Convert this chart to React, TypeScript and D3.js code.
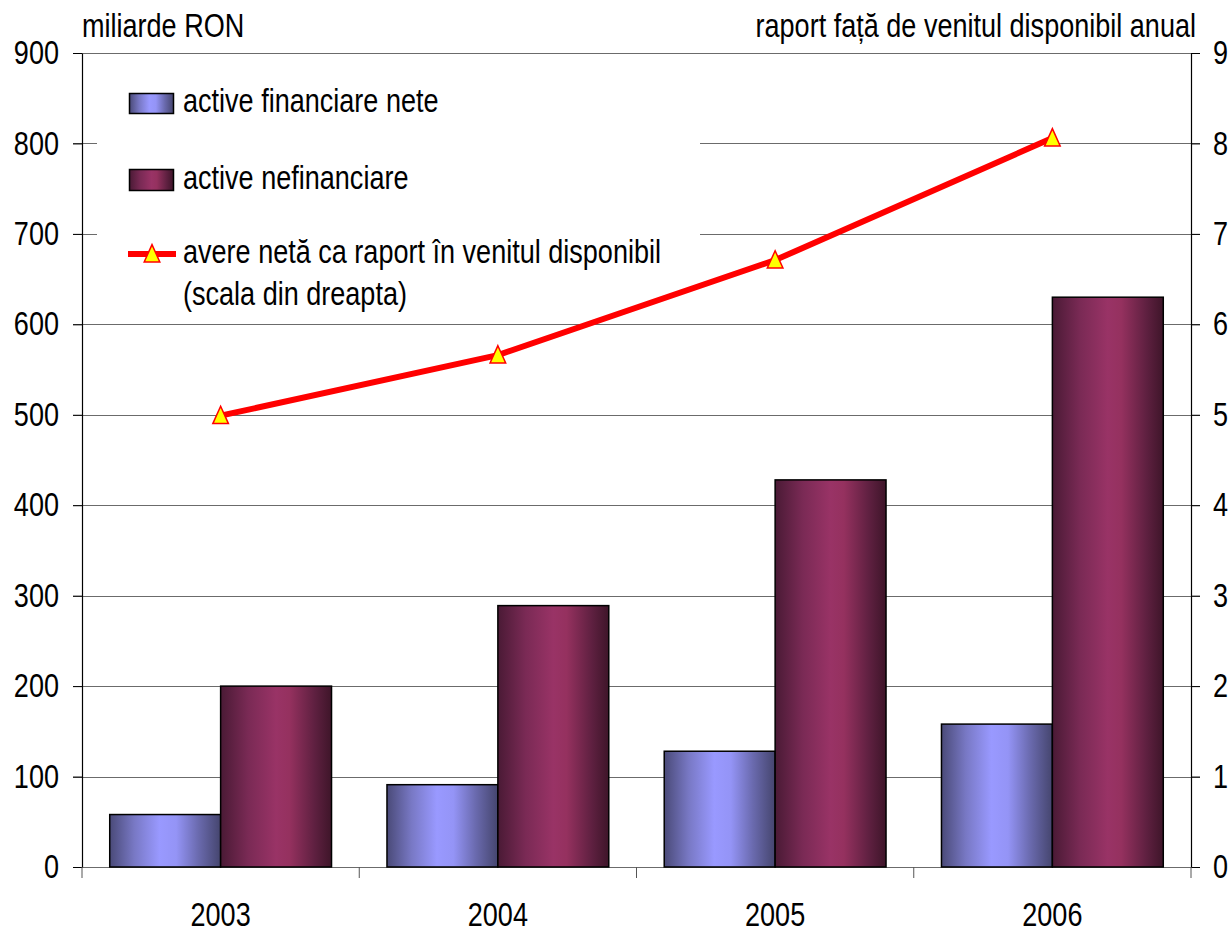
import React, { useEffect, useRef } from "react";
import * as d3 from "d3";

const years = ["2003", "2004", "2005", "2006"];
const activeFinanciare = [58, 91, 128, 158];
const activeNefinanciare = [200, 289, 428, 630];
const avereRaport = [4.99, 5.66, 6.71, 8.06];
const leftTicks = [0, 100, 200, 300, 400, 500, 600, 700, 800, 900];
const rightTicks = [0, 1, 2, 3, 4, 5, 6, 7, 8, 9];

const seriesNames = ["active financiare nete", "active nefinanciare"];
const lineName = ["avere netă ca raport în venitul disponibil", "(scala din dreapta)"];

// Arial Narrow is not available, so Liberation Sans is squeezed horizontally
const FONT = "'Liberation Sans', Arial, sans-serif";
const NARROW = 0.82;

const App = () => {
  const ref = useRef<SVGSVGElement>(null);

  useEffect(() => {
    const width = 1231;
    const height = 933;
    const left = 82;
    const right = 1191;
    const top = 53;
    const bottom = 867;

    const svg = d3.select(ref.current).attr("width", width).attr("height", height);
    svg.selectAll("*").remove();

    const defs = svg.append("defs");
    const grad = (id: string, stops: [number, string][]) => {
      const g = defs.append("linearGradient").attr("id", id).attr("x1", "0").attr("x2", "1").attr("y1", "0").attr("y2", "0");
      stops.forEach(([o, c]) => g.append("stop").attr("offset", o).attr("stop-color", c));
    };
    grad("gBlue", [
      [0, "#4a4a78"],
      [0.22, "#7878c4"],
      [0.45, "#9999ff"],
      [0.6, "#9494f6"],
      [0.8, "#6a6aae"],
      [1, "#45456e"],
    ]);
    grad("gPurple", [
      [0, "#4a1a35"],
      [0.25, "#7a2a55"],
      [0.5, "#993366"],
      [0.62, "#95315f"],
      [0.85, "#5e2040"],
      [1, "#3e1529"],
    ]);

    // squeeze a text around its own x anchor
    const narrow = (sel: any) =>
      sel.attr("transform", function (this: SVGTextElement) {
        const x0 = +(this.getAttribute("x") || 0);
        return `translate(${x0},0) scale(${NARROW},1) translate(${-x0},0)`;
      });

    const x = d3.scaleBand().domain(years).range([left, right]).paddingInner(0).paddingOuter(0);
    const x1 = d3.scaleBand().domain(["fin", "nefin"]).range([0, x.bandwidth()]).paddingInner(0).paddingOuter(0.25);
    const yL = d3.scaleLinear().domain([0, 900]).range([bottom, top]);
    const yR = d3.scaleLinear().domain([0, 9]).range([bottom, top]);

    // gridlines
    svg.append("g")
      .selectAll("line")
      .data(leftTicks)
      .join("line")
      .attr("x1", left - 9)
      .attr("x2", right + 9)
      .attr("y1", (d) => Math.round(yL(d)) + 0.5)
      .attr("y2", (d) => Math.round(yL(d)) + 0.5)
      .attr("stroke", "#6b6b6b")
      .attr("stroke-width", 1);

    // bars
    const data = years.map((yr, i) => ({ yr, fin: activeFinanciare[i], nefin: activeNefinanciare[i] }));
    const groups = svg.append("g")
      .selectAll("g")
      .data(data)
      .join("g")
      .attr("transform", (d) => `translate(${x(d.yr)},0)`);
    groups.selectAll("rect")
      .data((d) => [
        { key: "fin", v: d.fin },
        { key: "nefin", v: d.nefin },
      ])
      .join("rect")
      .attr("x", (d) => x1(d.key)!)
      .attr("width", x1.bandwidth())
      .attr("y", (d) => yL(d.v))
      .attr("height", (d) => yL(0) - yL(d.v))
      .attr("fill", (d) => (d.key === "fin" ? "url(#gBlue)" : "url(#gPurple)"))
      .attr("stroke", "#000")
      .attr("stroke-width", 1.5);

    // axes
    const yAxisL = d3.axisLeft(yL).tickValues(leftTicks).tickSize(9).tickSizeOuter(0).tickPadding(14);
    const gL = svg.append("g").attr("transform", `translate(${left},0)`).call(yAxisL);
    const yAxisR = d3.axisRight(yR).tickValues(rightTicks).tickSize(9).tickSizeOuter(0).tickPadding(13);
    const gR = svg.append("g").attr("transform", `translate(${right},0)`).call(yAxisR);
    const xAxis = d3.axisBottom(x).tickSize(0).tickPadding(36);
    const gX = svg.append("g").attr("transform", `translate(0,${bottom})`).call(xAxis);
    gX.select(".domain").remove();

    // category boundary ticks
    svg.append("g")
      .selectAll("line")
      .data(years.concat(["end"]))
      .join("line")
      .attr("x1", (d) => (d === "end" ? right : x(d)!))
      .attr("x2", (d) => (d === "end" ? right : x(d)!))
      .attr("y1", bottom)
      .attr("y2", bottom + 11)
      .attr("stroke", "#555");

    [gL, gR, gX].forEach((g) => {
      g.selectAll("text").attr("font-family", FONT).attr("font-size", 33).attr("fill", "#000");
      g.selectAll(".domain").attr("stroke", "#000").attr("stroke-width", 1.2);
      g.selectAll(".tick line").attr("stroke", "#000");
      narrow(g.selectAll("text"));
    });
    gX.selectAll("text").attr("dy", "0.71em");

    // legend box
    const lg = svg.append("g");
    lg.append("rect").attr("x", 97).attr("y", 60).attr("width", 603).attr("height", 258).attr("fill", "#fff");

    // line series
    const pts = years.map((yr, i) => [x(yr)! + x.bandwidth() / 2, yR(avereRaport[i])] as [number, number]);
    svg.append("path")
      .attr("d", d3.line()(pts))
      .attr("fill", "none")
      .attr("stroke", "#ff0000")
      .attr("stroke-width", 6)
      .attr("stroke-linejoin", "round");
    const triType = {
      draw(ctx: any, size: number) {
        const w = Math.sqrt(size) * 0.9;
        const h = Math.sqrt(size);
        ctx.moveTo(0, -h * 0.6);
        ctx.lineTo(w / 2, h * 0.4);
        ctx.lineTo(-w / 2, h * 0.4);
        ctx.closePath();
      },
    };
    const tri = d3.symbol().type(triType as any).size(300);
    svg.append("g")
      .selectAll("path")
      .data(pts)
      .join("path")
      .attr("d", tri)
      .attr("transform", (d) => `translate(${d[0]},${d[1] + 1})`)
      .attr("fill", "#ffff00")
      .attr("stroke", "#ff0000")
      .attr("stroke-width", 1.5);

    // legend entries
    lg.append("rect").attr("x", 129.5).attr("y", 93.5).attr("width", 44).attr("height", 20)
      .attr("fill", "url(#gBlue)").attr("stroke", "#000").attr("stroke-width", 1.5);
    lg.append("rect").attr("x", 129.5).attr("y", 169.5).attr("width", 44).attr("height", 21)
      .attr("fill", "url(#gPurple)").attr("stroke", "#000").attr("stroke-width", 1.5);
    lg.append("line").attr("x1", 128).attr("x2", 176).attr("y1", 254).attr("y2", 254)
      .attr("stroke", "#ff0000").attr("stroke-width", 6);
    lg.append("path").attr("d", tri).attr("transform", "translate(152,255)")
      .attr("fill", "#ffff00").attr("stroke", "#ff0000").attr("stroke-width", 1.5);

    const legendText = [
      { t: seriesNames[0], y: 112 },
      { t: seriesNames[1], y: 189 },
      { t: lineName[0], y: 263 },
      { t: lineName[1], y: 305 },
    ];
    narrow(
      lg.selectAll("text.lt")
        .data(legendText)
        .join("text")
        .attr("class", "lt")
        .attr("x", 183)
        .attr("y", (d: any) => d.y)
        .attr("font-family", FONT)
        .attr("font-size", 33)
        .text((d: any) => d.t)
    );

    // axis titles
    narrow(svg.append("text").attr("x", 82).attr("y", 37).attr("font-family", FONT).attr("font-size", 33)
      .text("miliarde RON"));
    narrow(svg.append("text").attr("x", 1196).attr("y", 37).attr("text-anchor", "end").attr("font-family", FONT)
      .attr("font-size", 33).text("raport față de venitul disponibil anual"));
  }, []);

  return (
    <div style={{ position: "absolute", left: 0, top: 0, background: "#fff" }}>
      <svg ref={ref} style={{ display: "block" }}></svg>
    </div>
  );
};

export default App;
